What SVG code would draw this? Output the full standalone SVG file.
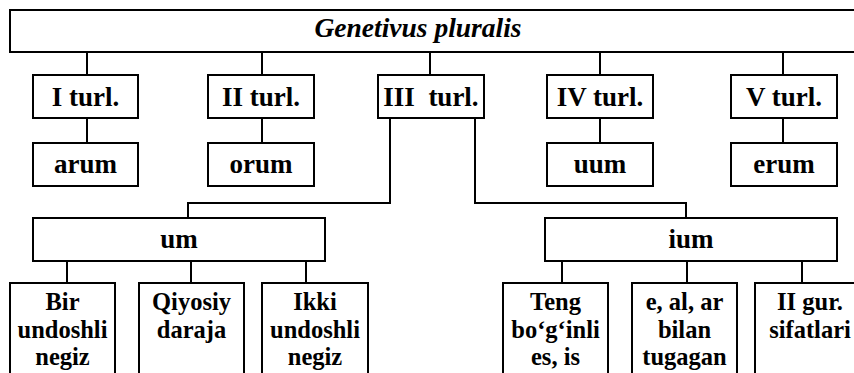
<svg xmlns="http://www.w3.org/2000/svg" width="854" height="373" viewBox="0 0 854 373" font-family="Liberation Serif, Times New Roman, serif" font-weight="bold">
<style>
.b{fill:#fff;stroke:#000;stroke-width:2}
.c line,.c polyline{fill:none;stroke:#000;stroke-width:2}
text{fill:#000;text-anchor:middle}
.m{font-size:27px}
.l{font-size:24.5px}
.t{font-size:27.5px;font-style:italic}
</style>
<g class="c">
<line x1="87" y1="52" x2="87" y2="75"/>
<line x1="262" y1="52" x2="262" y2="75"/>
<line x1="430" y1="52" x2="430" y2="75"/>
<line x1="600" y1="52" x2="600" y2="75"/>
<line x1="783" y1="52" x2="783" y2="75"/>
<line x1="87" y1="118" x2="87" y2="143"/>
<line x1="262" y1="118" x2="262" y2="143"/>
<line x1="600" y1="118" x2="600" y2="143"/>
<line x1="783" y1="118" x2="783" y2="143"/>
<polyline points="390,118 390,203 188,203 188,218"/>
<polyline points="475,118 475,203 686,203 686,218"/>
<line x1="67" y1="261" x2="67" y2="283"/>
<line x1="191" y1="261" x2="191" y2="283"/>
<line x1="306" y1="261" x2="306" y2="283"/>
<line x1="562" y1="261" x2="562" y2="283"/>
<line x1="687" y1="261" x2="687" y2="283"/>
<line x1="802" y1="261" x2="802" y2="283"/>
</g>
<g id="genetivus"><rect class="b" x="10" y="10" width="860" height="42"/><text class="t" x="418" y="37">Genetivus pluralis</text></g>
<g id="t1"><rect class="b" x="33" y="75" width="105" height="43"/><text class="m" x="85.5" y="106">I turl.</text></g>
<g id="t2"><rect class="b" x="208" y="75" width="106" height="43"/><text class="m" x="261" y="106">II turl.</text></g>
<g id="t3"><rect class="b" x="378" y="75" width="106" height="43"/><text class="m" x="431" y="106" xml:space="preserve">III  turl.</text></g>
<g id="t4"><rect class="b" x="547" y="75" width="106" height="43"/><text class="m" x="600" y="106">IV turl.</text></g>
<g id="t5"><rect class="b" x="731" y="75" width="106" height="43"/><text class="m" x="784" y="106">V turl.</text></g>
<g id="arum"><rect class="b" x="33" y="143" width="105" height="43"/><text class="m" x="85.5" y="173">arum</text></g>
<g id="orum"><rect class="b" x="208" y="143" width="106" height="43"/><text class="m" x="261" y="173">orum</text></g>
<g id="uum"><rect class="b" x="547" y="143" width="106" height="43"/><text class="m" x="600" y="173">uum</text></g>
<g id="erum"><rect class="b" x="731" y="143" width="106" height="43"/><text class="m" x="784" y="173">erum</text></g>
<g id="um"><rect class="b" x="33" y="218" width="292" height="43"/><text class="m" x="179" y="248">um</text></g>
<g id="ium"><rect class="b" x="545" y="218" width="292" height="43"/><text class="m" x="691" y="248">ium</text></g>
<g id="bir"><rect class="b" x="10" y="283" width="105" height="100"/><text class="l" x="62.5" y="310">Bir</text><text class="l" x="62.5" y="338">undoshli</text><text class="l" x="62.5" y="365">negiz</text></g>
<g id="qiyosiy"><rect class="b" x="139" y="283" width="105" height="100"/><text class="l" x="191.5" y="310">Qiyosiy</text><text class="l" x="191.5" y="338">daraja</text></g>
<g id="ikki"><rect class="b" x="262" y="283" width="106" height="100"/><text class="l" x="315" y="310">Ikki</text><text class="l" x="315" y="338">undoshli</text><text class="l" x="315" y="365">negiz</text></g>
<g id="teng"><rect class="b" x="503" y="283" width="105" height="100"/><text class="l" x="555.5" y="310">Teng</text><text class="l" x="555.5" y="338">bo‘g‘inli</text><text class="l" x="555.5" y="365">es, is</text></g>
<g id="eal"><rect class="b" x="632" y="283" width="105" height="100"/><text class="l" x="684.5" y="310">e, al, ar</text><text class="l" x="684.5" y="338">bilan</text><text class="l" x="684.5" y="365">tugagan</text></g>
<g id="iigur"><rect class="b" x="755" y="283" width="110" height="100"/><text class="l" x="810" y="310">II gur.</text><text class="l" x="810" y="338">sifatlari</text></g>
</svg>
